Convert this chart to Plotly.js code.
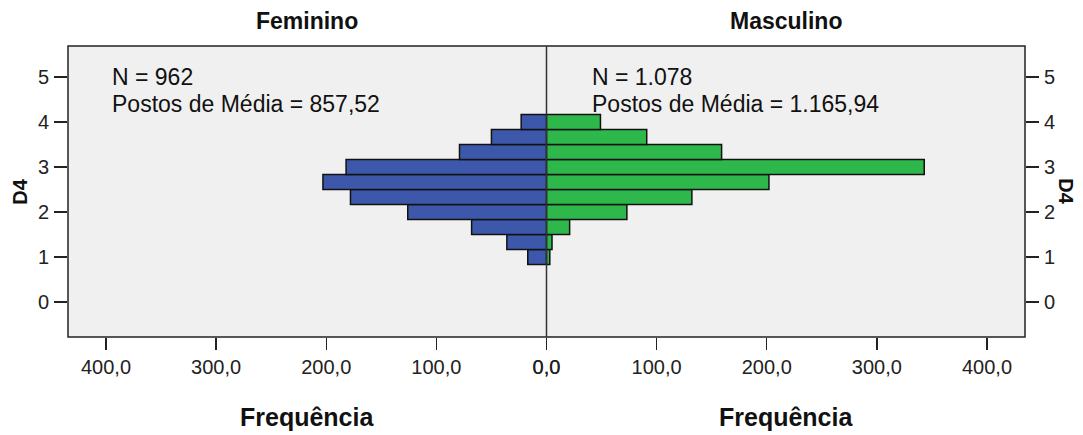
<!DOCTYPE html>
<html>
<head>
<meta charset="utf-8">
<script src="https://cdn.plot.ly/plotly-3.0.1.min.js"></script>
<style>
html,body{margin:0;padding:0;background:#fff;}
#chart{width:1083px;height:435px;}
</style>
</head>
<body>
<div id="chart"></div>
<script>
// D4 bin centres (mean of items, steps of 1/3)
const d4Bins = [1, 1.3333, 1.6667, 2, 2.3333, 2.6667, 3, 3.3333, 3.6667, 4];
// Frequencies
const femininoFreq = [17, 36, 68, 126, 178, 203, 182, 79, 50, 23];
const masculinoFreq = [3, 5, 21, 73, 132, 202, 343, 159, 91, 49];
const xTickVals = [0, 100, 200, 300, 400];
const xTickText = ['0,0', '100,0', '200,0', '300,0', '400,0'];
const yTickVals = [0, 1, 2, 3, 4, 5];
const groupLabels = ['Feminino', 'Masculino'];
const statsN = ['N = 962', 'N = 1.078'];
const statsRank = ['Postos de Média = 857,52', 'Postos de Média = 1.165,94'];

const tickFont = {family: 'Liberation Sans, Arial, sans-serif', size: 20, color: '#222'};
const titleFont = {family: 'Liberation Sans, Arial, sans-serif', size: 23, color: '#111'};
const annFont = {family: 'Liberation Sans, Arial, sans-serif', size: 23, color: '#111'};
const xMax = 434.5;

const traces = [
  {type: 'bar', orientation: 'h', x: femininoFreq, y: d4Bins, width: 1/3,
   xaxis: 'x', yaxis: 'y', marker: {color: '#3d58aa', line: {color: '#111', width: 1.5}},
   hoverinfo: 'x+y'},
  {type: 'bar', orientation: 'h', x: masculinoFreq, y: d4Bins, width: 1/3,
   xaxis: 'x2', yaxis: 'y2', marker: {color: '#2eb84b', line: {color: '#111', width: 1.5}},
   hoverinfo: 'x+y'}
];

const xBase = {
  tickvals: xTickVals, ticktext: xTickText, ticks: 'outside', ticklen: 12, tickwidth: 1.3,
  tickcolor: '#222', showgrid: false, zeroline: false, showline: false, tickfont: tickFont,
  fixedrange: true
};
const yBase = {
  range: [-0.78, 5.69], tickvals: yTickVals, ticks: 'outside', ticklen: 13, tickwidth: 1.3,
  tickcolor: '#222', showgrid: false, zeroline: false, showline: false, tickfont: tickFont,
  fixedrange: true
};

const ann = (text, x, y) => ({text: text, xref: 'paper', yref: 'paper', x: x, y: y,
  showarrow: false, font: annFont, xanchor: 'left', yanchor: 'middle', borderpad: 0});

const layout = {
  width: 1083, height: 435,
  margin: {l: 68, r: 58, t: 46, b: 98},
  paper_bgcolor: '#ffffff', plot_bgcolor: '#f0f0f0',
  showlegend: false, bargap: 0,
  xaxis: Object.assign({}, xBase, {domain: [0, 0.5], range: [xMax, 0], anchor: 'y'}),
  xaxis2: Object.assign({}, xBase, {domain: [0.5, 1], range: [0, xMax], anchor: 'y2'}),
  yaxis: Object.assign({}, yBase, {domain: [0, 1], anchor: 'x', side: 'left', ticklabelstandoff: 1}),
  yaxis2: Object.assign({}, yBase, {domain: [0, 1], anchor: 'x2', side: 'right', ticklabelstandoff: 1}),
  shapes: [
    {type: 'rect', xref: 'paper', yref: 'paper', x0: 0, x1: 1, y0: 0, y1: 1,
     line: {color: '#222', width: 1.5}},
    {type: 'line', xref: 'paper', yref: 'paper', x0: 0.5, x1: 0.5, y0: 0, y1: 1,
     line: {color: '#333', width: 1.5}}
  ],
  annotations: [
    {text: '<b>' + groupLabels[0] + '</b>', xref: 'paper', yref: 'paper', x: 0.25, y: 1.086,
     showarrow: false, font: titleFont, xanchor: 'center', yanchor: 'middle'},
    {text: '<b>' + groupLabels[1] + '</b>', xref: 'paper', yref: 'paper', x: 0.75, y: 1.086,
     showarrow: false, font: titleFont, xanchor: 'center', yanchor: 'middle'},
    {text: '<b>Frequência</b>', xref: 'paper', yref: 'paper', x: 0.25, y: -0.275,
     showarrow: false, font: Object.assign({}, titleFont, {size: 25}), xanchor: 'center', yanchor: 'middle'},
    {text: '<b>Frequência</b>', xref: 'paper', yref: 'paper', x: 0.75, y: -0.275,
     showarrow: false, font: Object.assign({}, titleFont, {size: 25}), xanchor: 'center', yanchor: 'middle'},
    {text: '<b>D4</b>', xref: 'paper', yref: 'paper', x: -0.051, y: 0.5, textangle: -90,
     showarrow: false, font: Object.assign({}, titleFont, {size: 20}), xanchor: 'center', yanchor: 'middle'},
    {text: '<b>D4</b>', xref: 'paper', yref: 'paper', x: 1.043, y: 0.5, textangle: 90,
     showarrow: false, font: Object.assign({}, titleFont, {size: 20}), xanchor: 'center', yanchor: 'middle'},
    ann(statsN[0], 0.045, 0.8935),
    ann(statsRank[0], 0.045, 0.8),
    ann(statsN[1], 0.546, 0.8935),
    ann(statsRank[1], 0.546, 0.8)
  ]
};

Plotly.newPlot('chart', traces, layout, {displayModeBar: false, staticPlot: true});
</script>
</body>
</html>
